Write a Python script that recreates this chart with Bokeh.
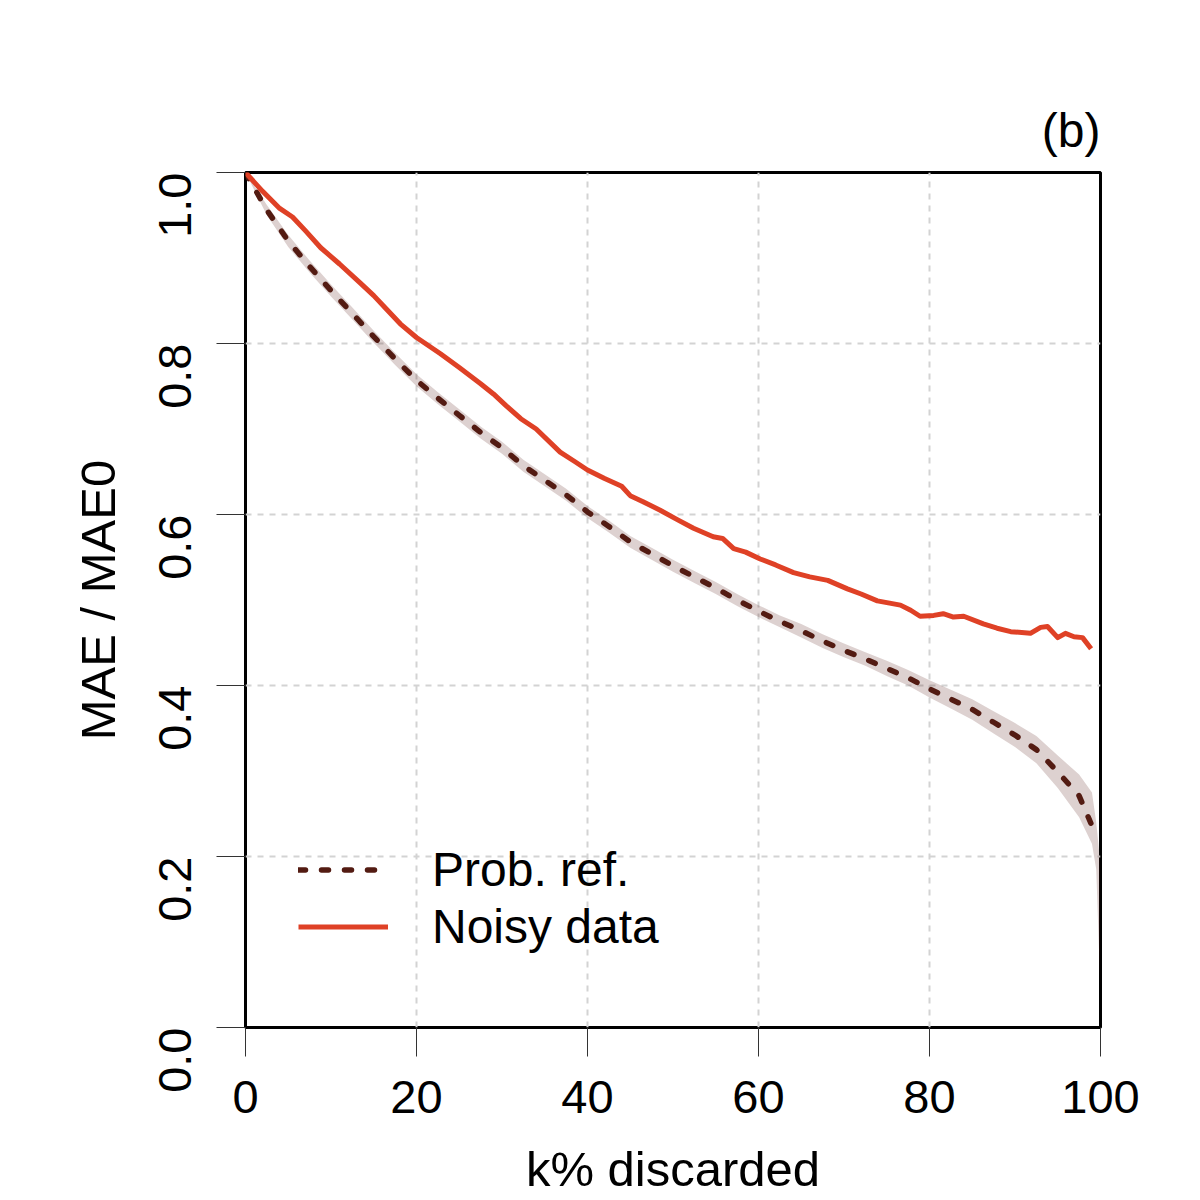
import math
from bokeh.plotting import figure
from bokeh.models import Range1d, Legend, LegendItem, FixedTicker
from bokeh.embed import file_html
from bokeh.resources import INLINE

# Prob. ref. (mean curve)
ref_x = [0, 2.5, 5, 7.5, 10, 12.5, 15, 17.5, 20, 22.5, 25, 27.5, 30, 32.5, 35, 37.5,
         40, 42.5, 45, 47.5, 50, 52.5, 55, 57.5, 60, 62.5, 65, 67.5, 70, 72.5, 75,
         77.5, 80, 82.5, 85, 87.5, 90, 92.5, 95, 97.5, 99]
ref_y = [1.000, 0.956, 0.920, 0.890, 0.862, 0.835, 0.808, 0.782, 0.757, 0.736, 0.716,
         0.696, 0.678, 0.657, 0.640, 0.623, 0.603, 0.586, 0.568, 0.554, 0.540, 0.527,
         0.514, 0.500, 0.487, 0.475, 0.464, 0.452, 0.441, 0.431, 0.420, 0.409, 0.396,
         0.384, 0.372, 0.357, 0.342, 0.325, 0.299, 0.271, 0.236]

# uncertainty band of Prob. ref.
band_x = [0, 2.5, 5, 7.5, 10, 12.5, 15, 17.5, 20, 22.5, 25, 27.5, 30, 32.5, 35, 37.5,
          40, 42.5, 45, 47.5, 50, 52.5, 55, 57.5, 60, 62.5, 65, 67.5, 70, 72.5, 75,
          77.5, 80, 82.5, 85, 87.5, 90, 92.5, 95, 97.5, 99, 99.5, 100]
band_hi = [1.000, 0.962, 0.927, 0.897, 0.869, 0.842, 0.815, 0.789, 0.764, 0.743, 0.723,
           0.703, 0.685, 0.664, 0.647, 0.630, 0.610, 0.593, 0.575, 0.561, 0.547, 0.534,
           0.521, 0.507, 0.494, 0.482, 0.472, 0.460, 0.449, 0.439, 0.429, 0.418, 0.406,
           0.395, 0.384, 0.370, 0.356, 0.341, 0.318, 0.296, 0.275, 0.240, 0.190]
band_lo = [1.000, 0.950, 0.913, 0.883, 0.855, 0.828, 0.801, 0.775, 0.750, 0.729, 0.709,
           0.689, 0.671, 0.650, 0.633, 0.616, 0.596, 0.579, 0.561, 0.547, 0.533, 0.520,
           0.507, 0.493, 0.480, 0.468, 0.456, 0.444, 0.433, 0.423, 0.411, 0.400, 0.386,
           0.373, 0.360, 0.344, 0.328, 0.309, 0.280, 0.246, 0.215, 0.185, 0.040]

# Noisy data
noisy_x = [0, 2, 4, 5.5, 7, 8.8, 11, 13.5, 15, 16.5, 18.1, 20, 22.8, 25, 27.5, 29, 30.5,
           32.2, 34, 36.8, 38.5, 40, 42, 44, 45, 46.5, 48.5, 50.5, 52.4, 54.7, 55.8,
           57.1, 58.5, 60.2, 62, 64.1, 66, 68.1, 70.4, 72, 73.9, 76.6, 77.8, 78.9,
           80.5, 81.6, 82.8, 84, 86.3, 87.9, 89.5, 91.8, 93, 93.8, 95, 95.9, 96.9,
           97.9, 98.9]
noisy_y = [1.000, 0.978, 0.958, 0.948, 0.932, 0.912, 0.893, 0.870, 0.856, 0.840, 0.823,
           0.807, 0.788, 0.772, 0.753, 0.741, 0.727, 0.712, 0.700, 0.673, 0.662, 0.652,
           0.642, 0.633, 0.622, 0.615, 0.605, 0.594, 0.584, 0.574, 0.572, 0.560, 0.556,
           0.548, 0.541, 0.532, 0.527, 0.523, 0.513, 0.507, 0.499, 0.494, 0.488, 0.481,
           0.482, 0.484, 0.480, 0.481, 0.472, 0.467, 0.463, 0.461, 0.468, 0.469, 0.456,
           0.461, 0.457, 0.456, 0.443]

x_ticks = [0, 20, 40, 60, 80, 100]
y_ticks = [0.0, 0.2, 0.4, 0.6, 0.8, 1.0]
y_tick_labels = {0.0: "0.0", 0.2: "0.2", 0.4: "0.4", 0.6: "0.6", 0.8: "0.8", 1.0: "1.0"}

FONT = "Liberation Sans"
DARK = "#531b12"
RED = "#df4126"

p = figure(width=1188, height=1198, output_backend="svg", toolbar_location=None,
           x_range=Range1d(0, 100), y_range=Range1d(0, 1),
           min_border_left=245, min_border_right=88, min_border_top=172,
           min_border_bottom=171)

p.title.text = "(b)"
p.title.align = "right"
p.title.text_font = FONT
p.title.text_font_size = "48px"
p.title.text_font_style = "normal"
p.title.text_color = "black"
p.title.standoff = 31

p.outline_line_color = "black"
p.outline_line_width = 3
p.background_fill_color = "white"
p.border_fill_color = "white"

for g in (p.xgrid, p.ygrid):
    g.grid_line_color = "#d3d3d3"
    g.grid_line_width = 2
    g.grid_line_dash = "6 6"
p.xgrid.ticker = FixedTicker(ticks=x_ticks)
p.ygrid.ticker = FixedTicker(ticks=y_ticks)

p.xaxis.ticker = FixedTicker(ticks=x_ticks)
p.yaxis.ticker = FixedTicker(ticks=y_ticks)
p.yaxis.major_label_overrides = y_tick_labels
p.yaxis.major_label_orientation = math.pi / 2
for ax in (p.xaxis, p.yaxis):
    ax.axis_line_color = None
    ax.major_tick_in = 0
    ax.major_tick_out = 29
    ax.major_tick_line_color = "#333333"
    ax.major_tick_line_width = 1
    ax.minor_tick_line_color = None
    ax.major_label_text_font = FONT
    ax.major_label_text_font_size = "47px"
    ax.major_label_text_color = "black"
    ax.axis_label_text_font = FONT
    ax.axis_label_text_font_size = "49px"
    ax.axis_label_text_font_style = "normal"
    ax.axis_label_text_color = "black"
p.xaxis.major_label_standoff = 24
p.yaxis.major_label_standoff = 42
p.xaxis.axis_label = "k% discarded"
p.yaxis.axis_label = "MAE / MAE0"
p.xaxis.axis_label_standoff = 26
p.yaxis.axis_label_standoff = 15

p.varea(x=band_x, y1=band_lo, y2=band_hi, fill_color=DARK, fill_alpha=0.2)
r_ref = p.line(ref_x, ref_y, line_color=DARK, line_width=5.5, line_dash="7 16",
               line_cap="round")
r_noisy = p.line(noisy_x, noisy_y, line_color=RED, line_width=5, line_join="round")

legend = Legend(items=[LegendItem(label="Prob. ref.", renderers=[r_ref]),
                       LegendItem(label="Noisy data", renderers=[r_noisy])],
                location=(53, 72))
legend.border_line_color = None
legend.background_fill_alpha = 0
legend.padding = 0
legend.margin = 0
legend.spacing = 0
legend.glyph_width = 90
legend.glyph_height = 57
legend.label_height = 57
legend.label_standoff = 44
legend.label_text_font = FONT
legend.label_text_font_size = "48px"
legend.label_text_color = "black"
p.add_layout(legend, "center")

open("out.html", "w").write(file_html(p, INLINE))
